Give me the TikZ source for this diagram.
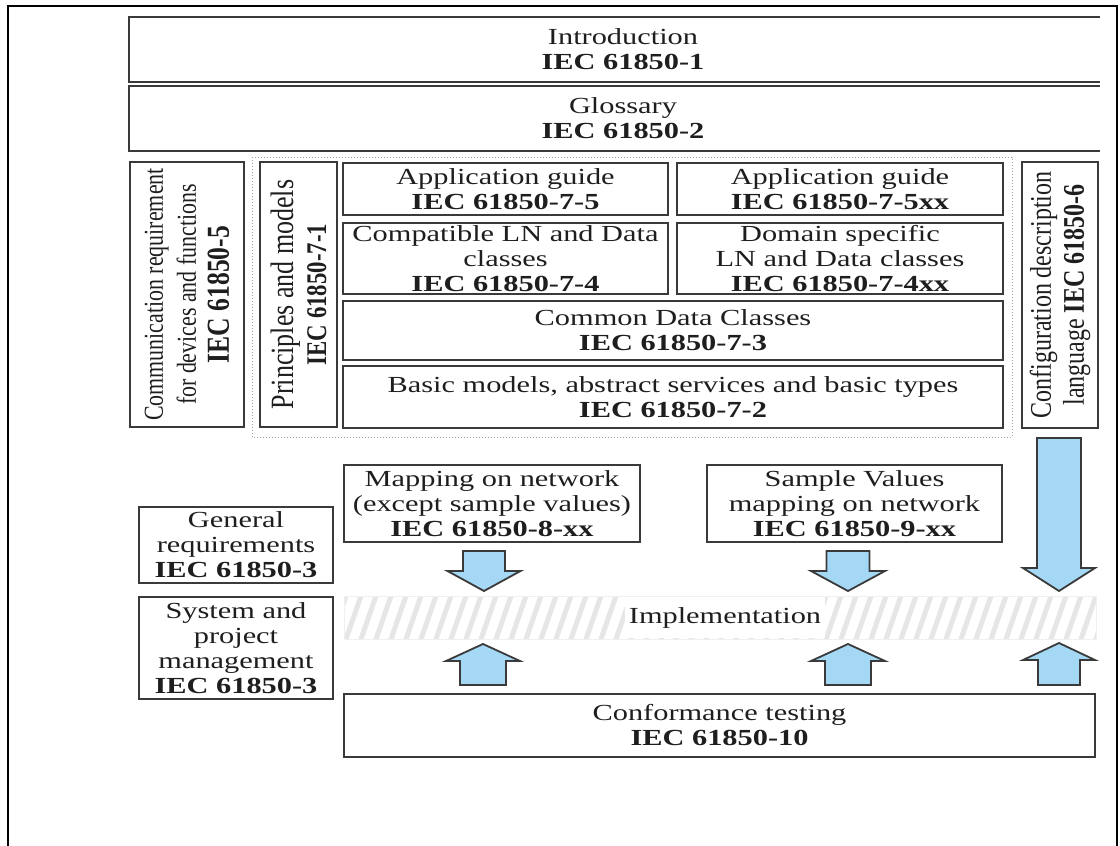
\documentclass[tikz,border=0pt]{standalone}
\usepackage{fontspec}
\newfontfamily\hfont[FakeStretch=1.32]{Liberation Serif}
\newfontfamily\vfont[FakeStretch=0.8]{Liberation Serif}
\definecolor{boxc}{HTML}{3A3A3A}
\definecolor{txt}{HTML}{1E1E1E}
\definecolor{arrowfill}{HTML}{A5D8F5}
\definecolor{stripec}{HTML}{E6E6E6}

% block arrow: centre x, flat end y, head base y, tip y, shaft half width, head half width
\newcommand\blkarrow[6]{%
  \draw[blockarrow] ({#1-#5},#2) -- ({#1+#5},#2) -- ({#1+#5},#3) -- ({#1+#6},#3)
    -- (#1,#4) -- ({#1-#6},#3) -- ({#1-#5},#3) -- cycle;}
% text size shortcut for the upright column labels
\newcommand\colsize[1]{\fontsize{#1}{33}\selectfont}

\begin{document}
\begin{tikzpicture}[x=1pt,y=-1pt,
  hbox/.style={draw=boxc, line width=2pt, inner sep=0pt, align=center, text=txt,
    font=\hfont\fontsize{23}{25}\selectfont},
  vbox/.style={draw=boxc, line width=2pt, inner sep=0pt, align=center, text=txt,
    rotate=90, font=\vfont\fontsize{29}{33}\selectfont},
  boxline/.style={draw=boxc, line width=2pt},
  blockarrow/.style={fill=arrowfill, draw=boxc, line width=1.8pt, line join=miter},
  stripe/.style={draw=stripec, line width=5pt}]
\useasboundingbox (0,0) rectangle (1120,846);

% outer frame, open at the bottom
\draw[line width=2.5pt, black] (8,846) -- (8,6) -- (1117,6) -- (1117,846);

% top bands
\node[hbox, draw=none, minimum width=986, minimum height=63] (intro) at (623,49.5)
  {Introduction\\\textbf{IEC 61850-1}};
\draw[boxline] ([xshift=-17pt]intro.north east) -- (intro.north west)
  -- (intro.south west) -- ([xshift=-17pt]intro.south east);
\node[hbox, draw=none, minimum width=986, minimum height=63] (gloss) at (623,118.5)
  {Glossary\\\textbf{IEC 61850-2}};
\draw[boxline] ([xshift=-17pt]gloss.north east) -- (gloss.north west)
  -- (gloss.south west) -- ([xshift=-17pt]gloss.south east);

% side columns
\node[vbox, minimum width=265, minimum height=114, font=\vfont\colsize{27.4}] (comm) at (187,294.5)
  {Communication requirement\\for devices and functions\\\textbf{\colsize{32}IEC 61850-5}};
\node[vbox, minimum width=266, minimum height=76, font=\vfont\colsize{30}] (config) at (1060,295)
  {Configuration description\\language \textbf{IEC 61850-6}};

% IEC 61850-7 group
\draw[gray!70, line width=1pt, dotted] (252,157) rectangle (1012,437);
\node[vbox, minimum width=265, minimum height=77, font=\vfont\colsize{32.5}] (princ) at (298.5,294.5)
  {Principles and models\\\textbf{\colsize{28.5}IEC 61850-7-1}};
\node[hbox, minimum width=325, minimum height=52] (ag75) at (505.5,189)
  {Application guide\\\textbf{IEC 61850-7-5}};
\node[hbox, minimum width=326, minimum height=52] (ag75xx) at (840,189)
  {Application guide\\\textbf{IEC 61850-7-5xx}};
\node[hbox, minimum width=325, minimum height=71] (cln) at (505.5,258.5)
  {Compatible LN and Data\\classes\\\textbf{IEC 61850-7-4}};
\node[hbox, minimum width=326, minimum height=71] (dln) at (840,258.5)
  {Domain specific\\LN and Data classes\\\textbf{IEC 61850-7-4xx}};
\node[hbox, minimum width=660, minimum height=59] (cdc) at (673,330.5)
  {Common Data Classes\\\textbf{IEC 61850-7-3}};
\node[hbox, minimum width=660, minimum height=62] (basic) at (673,397)
  {Basic models, abstract services and basic types\\\textbf{IEC 61850-7-2}};

% mappings
\node[hbox, minimum width=296, minimum height=77] (map8) at (492,503.5)
  {Mapping on network\\(except sample values)\\\textbf{IEC 61850-8-xx}};
\node[hbox, minimum width=295, minimum height=77] (map9) at (854.5,503.5)
  {Sample Values\\mapping on network\\\textbf{IEC 61850-9-xx}};

% general parts
\node[hbox, minimum width=194, minimum height=76] (genreq) at (236,545)
  {General\\requirements\\\textbf{IEC 61850-3}};
\node[hbox, minimum width=194, minimum height=102] (sysproj) at (236,648)
  {System and\\project\\management\\\textbf{IEC 61850-3}};

% implementation band
\begin{scope}
  \clip (344,596) rectangle (1096,639);
  \foreach \i in {0,...,55} \draw[stripe] ({330+\i*15},642) -- ({347+\i*15},593);
\end{scope}
\node[draw=gray!12, line width=1pt, minimum width=752, minimum height=43, inner sep=0pt]
  (implband) at (720,617.5) {};
\node[fill=white, inner xsep=4pt, minimum height=41, text=txt,
  font=\hfont\fontsize{23}{25}\selectfont] (impl) at (725,617.5) {Implementation};

\node[hbox, minimum width=751, minimum height=63] (conf) at (719.5,725.5)
  {Conformance testing\\\textbf{IEC 61850-10}};

% block arrows into and out of the implementation band
\blkarrow{484}{551}{571}{591}{21}{36.5}
\blkarrow{848}{551}{571}{591}{21.5}{37}
\blkarrow{1059}{438}{568}{591}{22}{36}
\blkarrow{483}{685}{661}{644}{23}{37}
\blkarrow{848}{685}{661}{644}{23}{37}
\blkarrow{1059}{685}{660}{643}{21}{36}
\end{tikzpicture}
\end{document}
